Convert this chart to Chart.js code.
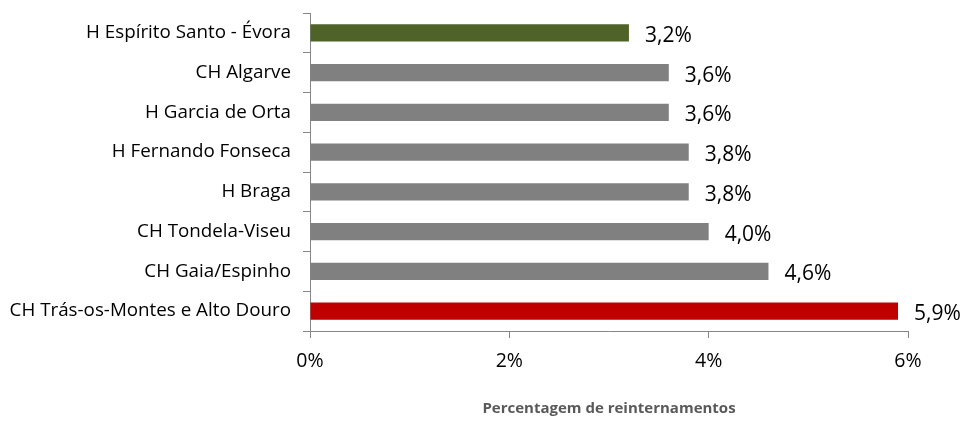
<!DOCTYPE html>
<html>
<head>
<meta charset="utf-8">
<script src="https://cdn.jsdelivr.net/npm/chart.js@4"></script>
<style>
  html, body { margin: 0; padding: 0; background: #fff; }
  #wrap { width: 965px; height: 421px; }
</style>
</head>
<body>
<div id="wrap"><canvas id="chart" width="965" height="421"></canvas></div>
<script>
const hospitals = [
  "H Espírito Santo - Évora",
  "CH Algarve",
  "H Garcia de Orta",
  "H Fernando Fonseca",
  "H Braga",
  "CH Tondela-Viseu",
  "CH Gaia/Espinho",
  "CH Trás-os-Montes e Alto Douro"
];
const readmissionRate = [3.2, 3.6, 3.6, 3.8, 3.8, 4.0, 4.6, 5.9];
const barColors = ["#4F6228", "#808080", "#808080", "#808080", "#808080", "#808080", "#808080", "#C00000"];
const xTicks = [0, 2, 4, 6];
const axisTitle = "Percentagem de reinternamentos";

const FONT = "'Open Sans', sans-serif";
const AXIS_COLOR = "#868686";

// value labels at the end of every bar, with a comma as decimal separator
const barLabels = {
  id: "barLabels",
  afterDatasetsDraw(chart) {
    const ctx = chart.ctx;
    const meta = chart.getDatasetMeta(0);
    ctx.save();
    ctx.font = "21px " + FONT;
    ctx.fillStyle = "#000";
    ctx.textAlign = "left";
    ctx.textBaseline = "middle";
    meta.data.forEach((bar, idx) => {
      const text = readmissionRate[idx].toFixed(1).replace(".", ",") + "%";
      ctx.fillText(text, bar.x + 16, bar.y + 3);
    });
    ctx.restore();
  }
};

new Chart(document.getElementById("chart"), {
  type: "bar",
  data: {
    labels: hospitals,
    datasets: [{
      data: readmissionRate,
      backgroundColor: barColors,
      barPercentage: 0.44,
      categoryPercentage: 1
    }]
  },
  options: {
    indexAxis: "y",
    responsive: false,
    animation: false,
    layout: { padding: { top: 13, right: 57, left: 0, bottom: 0 } },
    plugins: {
      legend: { display: false },
      tooltip: { enabled: false }
    },
    scales: {
      x: {
        min: 0,
        max: 6,
        afterBuildTicks(scale) {
          scale.ticks = xTicks.map(v => ({ value: v }));
        },
        afterFit(scale) {
          scale.height = 90;
          scale.paddingLeft = 0;
          scale.paddingRight = 0;
        },
        border: { display: true, color: AXIS_COLOR, width: 1 },
        grid: { drawOnChartArea: false, drawTicks: true, tickLength: 7, color: AXIS_COLOR },
        ticks: {
          padding: 12,
          color: "#000",
          font: { family: FONT, size: 19.5 },
          callback: v => v + "%"
        },
        title: {
          display: true,
          text: axisTitle,
          color: "#595959",
          font: { family: FONT, size: 15, weight: "bold" },
          padding: { top: 0, bottom: 3 }
        }
      },
      y: {
        afterFit(scale) {
          scale.width = 310;
          scale.paddingTop = 0;
          scale.paddingBottom = 0;
        },
        border: { display: true, color: AXIS_COLOR, width: 1 },
        grid: { offset: true, drawOnChartArea: false, drawTicks: true, tickLength: 7, color: AXIS_COLOR },
        ticks: {
          padding: 12,
          color: "#000",
          font: { family: FONT, size: 18.8 }
        }
      }
    }
  },
  plugins: [barLabels]
});
</script>
</body>
</html>
